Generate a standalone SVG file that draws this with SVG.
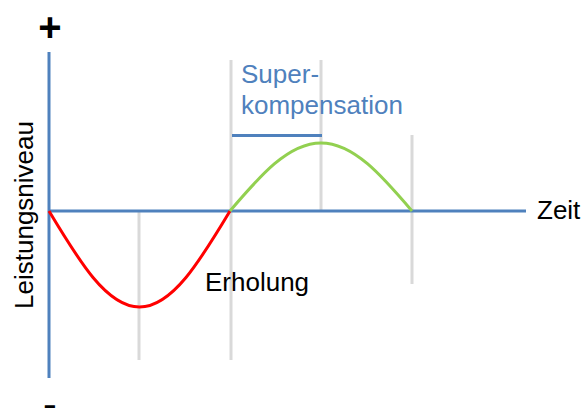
<svg xmlns="http://www.w3.org/2000/svg" width="586" height="408" viewBox="0 0 586 408">
<style>
.t{font-family:"Liberation Sans",Arial,sans-serif;font-size:26px;fill:#000}
.b{fill:#4F81BD}
.sign{font-family:"Liberation Sans",Arial,sans-serif;font-size:40px;font-weight:bold;fill:#000}
.grid{stroke:#D9D9D9;stroke-width:3;fill:none}
.axis{stroke:#4F81BD;stroke-width:3;fill:none}
.c{stroke-width:3;fill:none}
</style>
<rect width="586" height="408" fill="#fff"/>
<g id="grid">
<line class="grid" x1="139" y1="211" x2="139" y2="360"/>
<line class="grid" x1="231" y1="60" x2="231" y2="360"/>
<line class="grid" x1="321" y1="60" x2="321" y2="211"/>
<line class="grid" x1="412" y1="135" x2="412" y2="284"/>
</g>
<g id="axes">
<line class="axis" x1="49" y1="52" x2="49" y2="378"/>
<line class="axis" x1="49" y1="211" x2="526" y2="211"/>
<line class="axis" x1="232" y1="135.5" x2="322" y2="135.5"/>
</g>
<g id="curves">
<path class="c" stroke="#FF0000" d="M49,211 C78.5,260.2 106.7,307 139.5,307 C172.3,307 200.5,260.2 230,211"/>
<path class="c" stroke="#92D050" d="M230,211 C259.7,176.2 288.1,143 321,143 C353.9,143 382.3,176.2 412,211"/>
</g>
<g id="labels">
<text class="sign" x="50" y="41" text-anchor="middle">+</text>
<text class="sign" x="50" y="418" text-anchor="middle">-</text>
<text class="t" transform="translate(33,215) rotate(-90)" text-anchor="middle">Leistungsniveau</text>
<text class="t" x="537" y="219">Zeit</text>
<text class="t" x="205" y="291">Erholung</text>
<text class="t b" x="241" y="83">Super-</text>
<text class="t b" x="241" y="114">kompensation</text>
</g>
</svg>
